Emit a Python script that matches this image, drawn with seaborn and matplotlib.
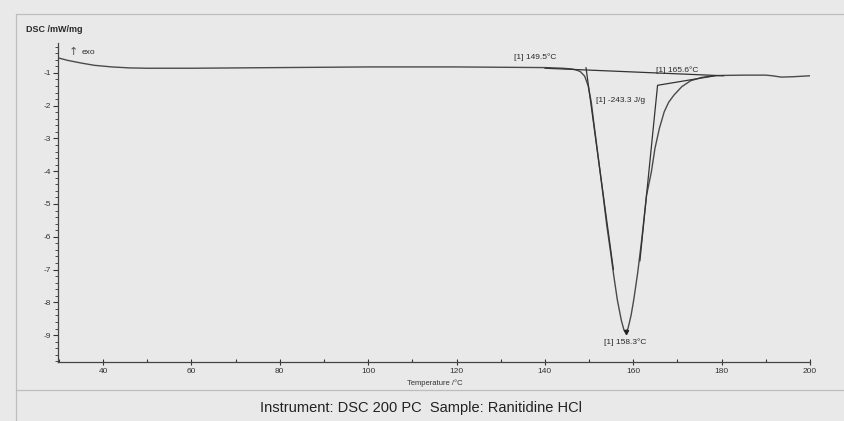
import numpy as np
import pandas as pd
import seaborn as sns
import matplotlib.pyplot as plt
from matplotlib.lines import Line2D
from matplotlib.ticker import MultipleLocator

# DSC curve (temperature in °C, DSC in mW/mg)
temperature = [30, 32, 35, 38, 42, 46, 50, 60, 70, 80, 90, 100, 110, 120, 130, 140,
               144, 146, 147, 148, 149, 149.8, 150.5, 151, 152, 153, 154, 154.9,
               155.6, 156.4, 157.3, 157.9, 158.3, 158.8, 159.5, 160.1, 161, 161.9,
               163.0, 164.1, 164.9, 165.9, 167.0, 168.0, 169.2, 171.0, 173.0, 175.5,
               178.2, 180, 185, 190, 191.5, 193.5, 196, 200]
dsc = [-0.55, -0.62, -0.70, -0.77, -0.82, -0.85, -0.86, -0.86, -0.85, -0.84, -0.83,
       -0.82, -0.82, -0.82, -0.83, -0.84, -0.86, -0.88, -0.91, -0.96, -1.10, -1.40,
       -1.90, -2.45, -3.50, -4.55, -5.65, -6.50, -7.20, -7.93, -8.55, -8.85, -8.91,
       -8.80, -8.40, -7.93, -7.10, -6.10, -4.74, -4.02, -3.31, -2.70, -2.19, -1.90,
       -1.68, -1.42, -1.24, -1.14, -1.09, -1.08, -1.07, -1.07, -1.09, -1.13, -1.12, -1.09]

# evaluation construction lines
baseline_t = [140, 180.5]
baseline_y = [-0.86, -1.09]
onset_t = [149.3, 155.5]
onset_y = [-0.84, -7.0]
endset_t = [161.5, 165.5, 178.5]
endset_y = [-6.74, -1.38, -1.09]

onset_label = "[1] 149.5°C"
endset_label = "[1] 165.6°C"
area_label = "[1] -243.3 J/g"
peak_label = "[1] 158.3°C"
peak_t, peak_y = 158.3, -8.91

df = pd.DataFrame({"Temperature": temperature, "DSC": dsc})

sns.set_style("ticks")
plt.rcParams['font.family'] = ['Liberation Sans', 'DejaVu Sans']
plt.rcParams['axes.unicode_minus'] = False

bg = '#e9e9e9'
fig = plt.figure(figsize=(8.45, 4.21), dpi=100, facecolor=bg)
ax = fig.add_axes([58 / 845, 1 - 362 / 421, 752 / 845, 319 / 421])
ax.set_facecolor(bg)

sns.lineplot(data=df, x="Temperature", y="DSC", ax=ax, color='#4a4a4a', linewidth=1.0)
ax.plot(baseline_t, baseline_y, color='#333333', lw=0.9)
ax.plot(onset_t, onset_y, color='#333333', lw=0.9)
ax.plot(endset_t, endset_y, color='#333333', lw=0.9)
ax.plot([peak_t], [peak_y], marker='v', color='#222222', ms=3)

ax.set_xlim(29.8, 200)
ax.set_ylim(-9.82, -0.09)
ax.xaxis.set_major_locator(MultipleLocator(20))
ax.xaxis.set_minor_locator(MultipleLocator(10))
ax.yaxis.set_major_locator(MultipleLocator(1))
ax.yaxis.set_minor_locator(MultipleLocator(0.2))
ax.set_xticks(range(40, 201, 20))
ax.set_yticks(range(-9, 0))
ax.tick_params(axis='x', which='major', direction='inout', length=5, width=0.8,
               labelsize=6, colors='#333333', pad=2)
ax.tick_params(axis='x', which='minor', direction='in', length=2.5, width=0.8, colors='#333333')
ax.tick_params(axis='y', which='major', direction='out', length=3.5, width=0.8,
               labelsize=6, colors='#333333', pad=1.5)
ax.tick_params(axis='y', which='minor', direction='out', length=2, width=0.6, colors='#333333')

sns.despine(ax=ax)
for s in ['left', 'bottom']:
    ax.spines[s].set_color('#444444')
    ax.spines[s].set_linewidth(0.9)

ax.set_xlabel("Temperature /°C", fontsize=5.5, color='#333333', labelpad=1)
ax.xaxis.set_label_coords((435 - 58) / 752, -0.055)
ax.set_ylabel("")

tc = '#2a2a2a'
ax.text(132.9, -0.52, onset_label, fontsize=6, color=tc, va='center', ha='left')
ax.text(165.1, -0.92, endset_label, fontsize=6, color=tc, va='center', ha='left')
ax.text(151.5, -1.84, area_label, fontsize=6, color=tc, va='center', ha='left')
ax.text(158.2, -9.22, peak_label, fontsize=6, color=tc, va='center', ha='center')
ax.text(33.4, -0.37, "↑", fontsize=8, color='#555555', va='center', ha='center',
        family=['DejaVu Sans'])
ax.text(35.2, -0.37, "exo", fontsize=6, color=tc, va='center', ha='left')

fig.text(26 / 845, 1 - 29 / 421, "DSC /mW/mg", fontsize=6.5, color=tc,
         va='center', ha='left', fontweight='bold')
fig.text(421 / 845, 1 - 408 / 421, "Instrument: DSC 200 PC  Sample: Ranitidine HCl",
         fontsize=10.5, color='#222222', va='center', ha='center')

# frame lines of the printout
lc = '#bdbdbd'
fig.add_artist(Line2D([16 / 845, 16 / 845], [0, 1 - 14 / 421], color=lc, lw=0.9))
fig.add_artist(Line2D([16 / 845, 1], [1 - 14 / 421, 1 - 14 / 421], color=lc, lw=0.9))
fig.add_artist(Line2D([16 / 845, 1], [1 - 390 / 421, 1 - 390 / 421], color=lc, lw=0.9))

fig.savefig("out.png", dpi=100, facecolor=bg)
